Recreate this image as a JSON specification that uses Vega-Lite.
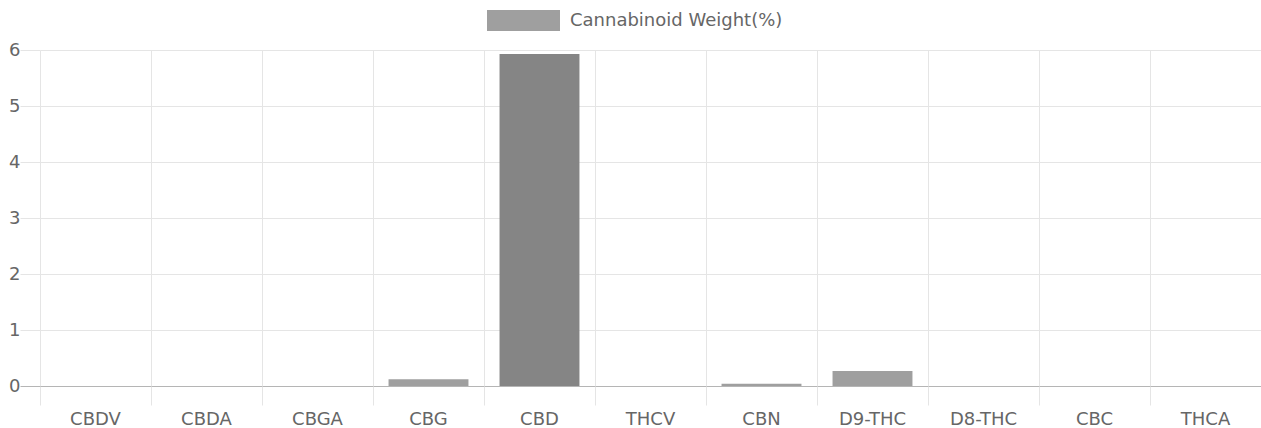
{
  "$schema": "https://vega.github.io/schema/vega-lite/v6.json",
  "width": 1221,
  "height": 336,
  "autosize": {"type": "none"},
  "padding": {"left": 40, "top": 50, "right": 0, "bottom": 42},
  "background": "white",
  "config": {
    "view": {"stroke": null},
    "font": "DejaVu Sans",
    "axis": {"labelFont": "DejaVu Sans", "labelFontSize": 18, "labelColor": "#666666", "gridColor": "#e5e5e5", "tickColor": "#e5e5e5", "domain": false, "title": null}
  },
  "data": {
    "values": [
      {"name": "CBDV", "value": 0},
      {"name": "CBDA", "value": 0},
      {"name": "CBGA", "value": 0},
      {"name": "CBG", "value": 0.12},
      {"name": "CBD", "value": 5.93},
      {"name": "THCV", "value": 0},
      {"name": "CBN", "value": 0.04},
      {"name": "D9-THC", "value": 0.27},
      {"name": "D8-THC", "value": 0},
      {"name": "CBC", "value": 0},
      {"name": "THCA", "value": 0}
    ]
  },
  "mark": {"type": "bar", "width": {"band": 0.72}},
  "encoding": {
    "x": {
      "field": "name", "type": "nominal", "sort": null,
      "scale": {"paddingInner": 0, "paddingOuter": 0},
      "axis": {"bandPosition": 0, "labelAngle": 0, "tickSize": 19, "labelPadding": 5, "grid": true, "labelBound": false, "labelFlush": false}
    },
    "y": {
      "field": "value", "type": "quantitative",
      "scale": {"domain": [0, 6], "nice": false},
      "axis": {
        "values": [0, 1, 2, 3, 4, 5, 6], "tickSize": 20, "labelPadding": 0, "grid": true,
        "gridColor": {"condition": {"test": "datum.value === 0", "value": "#b5b5b5"}, "value": "#e5e5e5"},
        "tickColor": {"condition": {"test": "datum.value === 0", "value": "#b5b5b5"}, "value": "#e5e5e5"},
        "labelBaseline": "middle"
      }
    },
    "color": {
      "condition": {"test": "datum.name === 'CBD'", "value": "#858585"},
      "datum": "Cannabinoid Weight(%)",
      "type": "nominal",
      "scale": {"range": ["#9f9f9f"]},
      "legend": {
        "orient": "none", "legendX": 447, "legendY": -66, "title": null, "padding": 0,
        "symbolType": "M-1,-0.2877H1V0.2877H-1Z", "symbolSize": 5329, "symbolStrokeWidth": 0, "symbolOpacity": 1,
        "labelFont": "DejaVu Sans", "labelFontSize": 18, "labelColor": "#666666", "labelOffset": 10, "labelLimit": 400
      }
    }
  }
}
